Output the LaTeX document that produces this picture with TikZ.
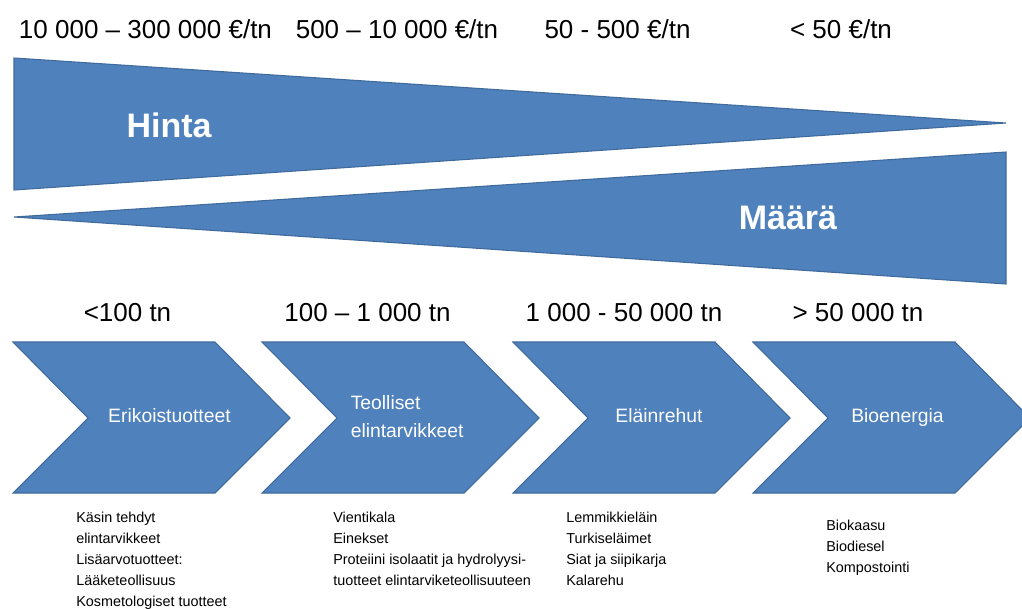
\documentclass[tikz,border=0pt]{standalone}
\usepackage{fontspec}
\setmainfont{Liberation Sans}
\usepackage{tikz}
\definecolor{officeblue}{HTML}{4F81BD}
\definecolor{officeline}{HTML}{3F6A9C}
\tikzstyle{wedge}=[fill=officeblue, draw=officeline, line width=0.8pt, line join=miter]
\tikzstyle{chevron}=[wedge]
\tikzstyle{toplabel}=[inner sep=0pt, anchor=base, font=\fontsize{19.5}{22}\selectfont]
\tikzstyle{biglabel}=[inner sep=0pt, anchor=base, text=white, font=\fontsize{25.5}{28}\selectfont\bfseries]
\tikzstyle{steplabel}=[inner sep=0pt, text=white, font=\fontsize{14.5}{20.8}\selectfont]
\tikzstyle{itemlist}=[inner sep=0pt, anchor=north west, align=left, font=\fontsize{10.8}{15.75}\selectfont]

\begin{document}
\begin{tikzpicture}[x=0.75pt, y=-0.75pt]
        \useasboundingbox (0, 0) rectangle (1022, 608);
        % hinta ja maara
        \draw[wedge] (14, 58) -- (1006, 123) -- (14, 190) -- cycle;
        \draw[wedge] (14, 217) -- (1006, 152) -- (1006, 284) -- cycle;
        \node[biglabel] (hinta) at (169, 137) {Hinta};
        \node[biglabel] (maara) at (788, 229) {Määrä};
        \node[toplabel] (p1) at (145.5, 38) {10 000 – 300 000 €/tn};
        \node[toplabel] (p2) at (397, 38) {500 – 10 000 €/tn};
        \node[toplabel] (p3) at (617.5, 38) {50 - 500 €/tn};
        \node[toplabel] (p4) at (841, 38) {< 50 €/tn};
        % nuolet
        \draw[chevron] (13, 342) -- (215, 342) -- (290, 418) -- (215, 493) -- (13, 493) -- (88, 418) -- cycle;
        \draw[chevron] (262, 342) -- (464, 342) -- (539, 418) -- (464, 493) -- (262, 493) -- (337, 418) -- cycle;
        \draw[chevron] (513, 342) -- (715, 342) -- (790, 418) -- (715, 493) -- (513, 493) -- (588, 418) -- cycle;
        \draw[chevron] (753, 342) -- (955, 342) -- (1030, 418) -- (955, 493) -- (753, 493) -- (828, 418) -- cycle;
        \node[toplabel] (m1) at (127.5, 321.7) {<100 tn};
        \node[toplabel] (m2) at (367.5, 321.7) {100 – 1 000 tn};
        \node[toplabel] (m3) at (624, 321.7) {1 000 - 50 000 tn};
        \node[toplabel] (m4) at (858, 321.7) {> 50 000 tn};
        \node[steplabel, anchor=base] (s1) at (169.5, 422) {Erikoistuotteet};
        \node[steplabel, anchor=base west, align=left] (s2) at (350.5, 437) {Teolliset\\elintarvikkeet};
        \node[steplabel, anchor=base] (s3) at (659, 422) {Eläinrehut};
        \node[steplabel, anchor=base] (s4) at (897.5, 422) {Bioenergia};
        % tuotteet
        \node[itemlist] (t1) at (76, 512) {Käsin tehdyt\\elintarvikkeet\\Lisäarvotuotteet:\\Lääketeollisuus\\Kosmetologiset tuotteet};
        \node[itemlist] (t2) at (333, 512) {Vientikala\\Einekset\\Proteiini isolaatit ja hydrolyysi-\\tuotteet elintarviketeollisuuteen};
        \node[itemlist] (t3) at (566, 512) {Lemmikkieläin\\Turkiseläimet\\Siat ja siipikarja\\Kalarehu};
        \node[itemlist] (t4) at (826, 520) {Biokaasu\\Biodiesel\\Kompostointi};
    \end{tikzpicture}
\end{document}
